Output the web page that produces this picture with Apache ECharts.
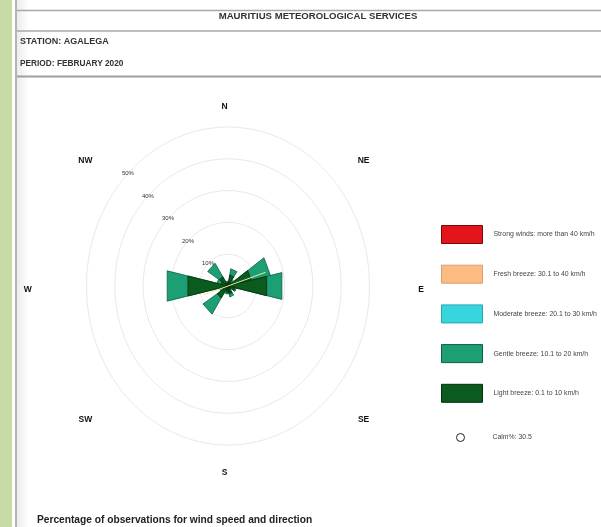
<!DOCTYPE html>
<html><head><meta charset="utf-8">
<script src="https://cdn.jsdelivr.net/npm/echarts@6/dist/echarts.min.js"></script>
<style>html,body{margin:0;padding:0;background:#fff}#c{width:601px;height:527px}</style>
</head><body><div id="c"></div>
<script>
// ---- data ----
const directions = ['N','NNE','NE','ENE','E','ESE','SE','SSE','S','SSW','SW','WSW','W','WNW','NW','NNW'];
const lightBreeze    = [1.0, 3.5, 1.5, 8.5, 14.0, 2.5, 1.0, 2.5, 2.0, 1.5, 4.5, 2.0, 14.5, 2.5, 3.5, 1.0];
const gentleBreeze   = [0.5, 2.0, 1.0, 7.0, 5.5, 0.5, 0.5, 1.0, 0.5, 1.0, 6.0, 1.0, 7.5, 1.5, 5.0, 0.5];
const moderateBreeze = [0,0,0,0,0,0,0,0,0,0,0,0,0,0,0,0];
const freshBreeze    = [0,0,0,0,0,0,0,0,0,0,0,0,0,0,0,0];
const strongWinds    = [0,0,0,0,0,0,0,0,0,0,0,0,0,0,0,0];
const classNames = ['Strong winds: more than 40 km/h','Fresh breeze: 30.1 to 40 km/h','Moderate breeze: 20.1 to 30 km/h','Gentle breeze: 10.1 to 20 km/h','Light breeze: 0.1 to 10 km/h'];
const ringValues = [10,20,30,40,50];
const ringLabels = ['10%','20%','30%','40%','50%'];
const compassLabels = ['N','NE','E','SE','S','SW','W','NW'];
const compassAngles = [0,45,90,135,180,225,270,315];
const calmPercent = 30.5;
const resultantLine = [[252, 9], [72, 14]];
const headerTitle = 'MAURITIUS METEOROLOGICAL SERVICES';
const stationText = 'STATION: AGALEGA';
const periodText = 'PERIOD: FEBRUARY 2020';
const footerText = 'Percentage of observations for wind speed and direction';

// ---- styles ----
const colors = {strong:'#e3141b', fresh:'#fdbb84', moderate:'#37d6de', gentle:'#1d9f76', light:'#0b5a1e'};
const borders = {strong:'#7a0a0a', fresh:'#d9a070', moderate:'#22a8b0', gentle:'#0e5e40', light:'#06300f'};
const halfWidth = 12.5; // degrees
const FONT = 'Liberation Sans, Arial, sans-serif';

function pt(api, r, deg){
  const a = deg*Math.PI/180;
  return api.coord([r*Math.sin(a), r*Math.cos(a)]);
}

const layers = [
  {key:'light', vals:lightBreeze, name:classNames[4]},
  {key:'gentle', vals:gentleBreeze, name:classNames[3]},
  {key:'moderate', vals:moderateBreeze, name:classNames[2]},
  {key:'fresh', vals:freshBreeze, name:classNames[1]},
  {key:'strong', vals:strongWinds, name:classNames[0]}
];
const cum = directions.map(()=>0);
const segData = {};
layers.forEach(l=>{
  segData[l.key] = directions.map((d,i)=>{ const s=cum[i]; cum[i]+=l.vals[i]; return [i, s, cum[i]]; });
});

// draw order: outer (cumulative totals) first, inner on top
const petalSeries = ['strong','fresh','moderate','gentle','light'].map((k,idx)=>{
  const l = layers.find(x=>x.key===k);
  const data = segData[k].map(d=>[d[0], 0, d[2], d[2]-d[1]]);
  return {
    type:'custom', name:l.name, coordinateSystem:'cartesian2d', z:3+idx,
    itemStyle:{color:colors[k], borderColor:borders[k]},
    renderItem:function(params, api){
      const i=api.value(0), e=api.value(2), len=api.value(3);
      if (len<=0) return null;
      const th=i*22.5;
      return {type:'polygon', shape:{points:[pt(api,0,0), pt(api,e,th-halfWidth), pt(api,e,th+halfWidth)]},
        style:{fill:colors[k], stroke:borders[k], lineWidth:0.8}};
    },
    data:data, silent:true
  };
});

const ringSeries = {
  type:'custom', coordinateSystem:'cartesian2d', z:1, silent:true,
  renderItem:function(params, api){
    const r = api.value(0);
    const pts=[]; for(let a=0;a<=360;a+=3) pts.push(pt(api,r,a));
    return {type:'polyline', shape:{points:pts}, style:{fill:null, stroke:'#e9e9e9', lineWidth:1}};
  },
  data: ringValues.map(v=>[v])
};
const ringLabelSeries = {
  type:'custom', coordinateSystem:'cartesian2d', z:10, silent:true,
  renderItem:function(params, api){
    const r = api.value(0); const p = pt(api, r, 315);
    return {type:'text', x:p[0], y:p[1], style:{text:ringLabels[params.dataIndex], fill:'#333', font:'6px '+FONT, align:'center', verticalAlign:'middle'}};
  },
  data: ringValues.map(v=>[v])
};
const compassSeries = {
  type:'custom', coordinateSystem:'cartesian2d', z:10, silent:true,
  renderItem:function(params, api){
    const a = api.value(0)*Math.PI/180;
    const p = api.coord([69.5*Math.sin(a), 57.5*Math.cos(a)]);
    return {type:'text', x:p[0]-3.5, y:p[1]+4, style:{text:compassLabels[params.dataIndex], fill:'#111', font:'bold 8.5px '+FONT, align:'center', verticalAlign:'middle'}};
  },
  data: compassAngles.map(v=>[v])
};
const resultantSeries = {
  type:'custom', coordinateSystem:'cartesian2d', z:20, silent:true,
  renderItem:function(params, api){
    const pts = resultantLine.map(d=>pt(api, d[1], d[0]));
    return {type:'polyline', shape:{points:pts}, style:{stroke:'#eee6a0', lineWidth:1, fill:null}};
  },
  data:[[0]]
};
const calmSeries = {type:'custom', name:'Calm%: '+calmPercent, coordinateSystem:'cartesian2d', renderItem:()=>null, data:[[calmPercent]],
  itemStyle:{color:'#fff', borderColor:'#222', borderWidth:1}};

const chart = echarts.init(document.getElementById('c'), null, {renderer:'canvas'});
chart.setOption({
  animation:false,
  backgroundColor:'#fff',
  grid:{left:86.5, top:127, width:283, height:318, show:false},
  xAxis:{type:'value', min:-50, max:50, show:false},
  yAxis:{type:'value', min:-50, max:50, show:false},
  legend:[{
    orient:'vertical', left:441, top:225, padding:0, itemWidth:41, itemHeight:18, itemGap:20.7,
    selectedMode:false, icon:'rect',
    textStyle:{fontSize:6.9, color:'#444', fontFamily:FONT, padding:[0,0,0,6]},
    data:[
      {name:classNames[0], itemStyle:{color:colors.strong, borderColor:borders.strong, borderWidth:1}},
      {name:classNames[1], itemStyle:{color:colors.fresh, borderColor:borders.fresh, borderWidth:1}},
      {name:classNames[2], itemStyle:{color:colors.moderate, borderColor:borders.moderate, borderWidth:1}},
      {name:classNames[3], itemStyle:{color:colors.gentle, borderColor:borders.gentle, borderWidth:1}},
      {name:classNames[4], itemStyle:{color:colors.light, borderColor:borders.light, borderWidth:1}}
    ]
  },{
    orient:'vertical', left:456, top:433, padding:0, itemWidth:8, itemHeight:8, selectedMode:false, icon:'circle',
    textStyle:{fontSize:6.9, color:'#444', fontFamily:FONT, padding:[0,0,0,23]},
    data:[{name:'Calm%: '+calmPercent, itemStyle:{color:'#fff', borderColor:'#222', borderWidth:1}}]
  }],
  graphic:[
    {type:'rect', left:0, top:0, shape:{width:12, height:527}, style:{fill:'#c8dba6'}, silent:true},
    {type:'rect', left:17, top:0, shape:{width:12, height:527}, style:{fill:new echarts.graphic.LinearGradient(0,0,1,0,[{offset:0,color:'#ececec'},{offset:1,color:'#ffffff'}])}, silent:true},
    {type:'line', shape:{x1:16, y1:0, x2:16, y2:527}, style:{stroke:'#b4b4b4', lineWidth:2}, silent:true},
    {type:'line', shape:{x1:17, y1:10.5, x2:601, y2:10.5}, style:{stroke:'#a8a8a8', lineWidth:1.5}, silent:true},
    {type:'line', shape:{x1:17, y1:31, x2:601, y2:31}, style:{stroke:'#a8a8a8', lineWidth:1.5}, silent:true},
    {type:'line', shape:{x1:17, y1:76.5, x2:601, y2:76.5}, style:{stroke:'#a0a0a0', lineWidth:2}, silent:true},
    {type:'text', x:318, y:16, style:{text:headerTitle, font:'bold 9.6px '+FONT, fill:'#333', align:'center', verticalAlign:'middle'}, silent:true},
    {type:'text', x:20, y:42, style:{text:stationText, font:'bold 9px '+FONT, fill:'#333', align:'left', verticalAlign:'middle'}, silent:true},
    {type:'text', x:20, y:64, style:{text:periodText, font:'bold 8.3px '+FONT, fill:'#333', align:'left', verticalAlign:'middle'}, silent:true},
    {type:'text', x:37, y:520, style:{text:footerText, font:'bold 10.2px '+FONT, fill:'#222', align:'left', verticalAlign:'middle'}, silent:true}
  ],
  series:[ringSeries, ringLabelSeries, compassSeries].concat(petalSeries).concat([resultantSeries, calmSeries])
});
</script>
</body></html>
